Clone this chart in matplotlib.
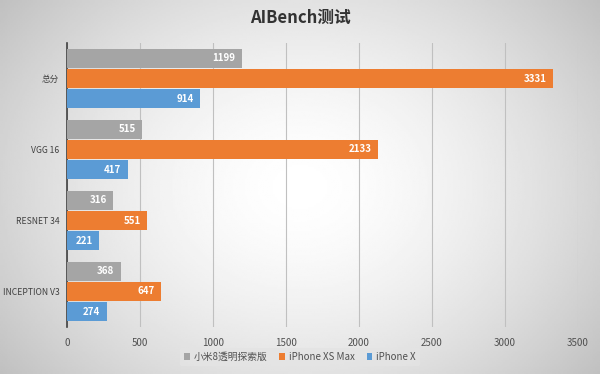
import numpy as np
import matplotlib.pyplot as plt

plt.rcParams['font.family'] = ['Noto Sans CJK SC', 'DejaVu Sans']

# === DATA ===
categories = ["总分", "VGG 16", "RESNET 34", "INCEPTION V3"]
series_names = ["小米8透明探索版", "iPhone XS Max", "iPhone X"]
mi8 = [1199, 515, 316, 368]
xs_max = [3331, 2133, 551, 647]
iphone_x = [914, 417, 221, 274]
x_ticks = [0, 500, 1000, 1500, 2000, 2500, 3000, 3500]

colors = ["#A5A5A5", "#ED7D31", "#5B9BD5"]

fig = plt.figure(figsize=(6, 3.74), dpi=100)

# === BACKGROUND GRADIENT ===
bg = fig.add_axes([0, 0, 1, 1], zorder=-10)
yy, xx = np.mgrid[-1:1:200j, -1:1:320j]
r = np.sqrt((xx * 0.9) ** 2 + (yy * 0.7) ** 2)
shade = 1.0 - 0.2 * np.clip(r, 0, 1.3) ** 1.6
bg.imshow(shade, cmap='gray', vmin=0, vmax=1, aspect='auto', extent=[0, 1, 0, 1])
bg.axis('off')

ax = fig.add_axes([67 / 600, 1 - 327 / 374, (578 - 67) / 600, (327 - 43) / 374])
ax.set_facecolor('none')

y = np.arange(len(categories))
h = 0.272
for i, (vals, name) in enumerate(zip([mi8, xs_max, iphone_x], series_names)):
    pos = y + (i - 1) * (h + 0.01)
    bars = ax.barh(pos, vals, height=h, color=colors[i], label=name, zorder=3)
    for b, v in zip(bars, vals):
        ax.text(v - 45, b.get_y() + b.get_height() / 2, str(v), ha='right', va='center',
                color='white', fontsize=7, fontweight='bold', zorder=4)

ax.set_ylim(3.5, -0.5)
ax.set_xlim(0, 3500)
ax.set_xticks(x_ticks)
ax.set_yticks(y)
ax.set_yticklabels(categories, fontsize=6.2, color='#404040')
ax.tick_params(axis='x', labelsize=7, colors='#505050', length=0, pad=8)
ax.tick_params(axis='y', length=0, pad=5.5)
ax.grid(axis='x', color='#C0C0C0', linewidth=0.8, zorder=0)
for s in ['top', 'right', 'bottom']:
    ax.spines[s].set_visible(False)
ax.spines['left'].set_color('#404040')
ax.spines['left'].set_linewidth(1.2)

fig.text(0.5, 1 - 18 / 374, "AIBench测试", ha='center', va='center',
         fontsize=12, fontweight='bold', color='#333333')

leg = fig.legend(loc='center', bbox_to_anchor=(0.5, 1 - 357 / 374), ncol=3,
                 fontsize=7, frameon=True, handlelength=0.6, handleheight=0.6,
                 handletextpad=0.4, columnspacing=1.2, borderpad=0.4)
leg.get_frame().set_facecolor('#E4E4E4')
leg.get_frame().set_edgecolor('none')
leg.get_frame().set_alpha(0.8)
for t in leg.get_texts():
    t.set_color('#505050')

plt.savefig("out.png", dpi=100)
